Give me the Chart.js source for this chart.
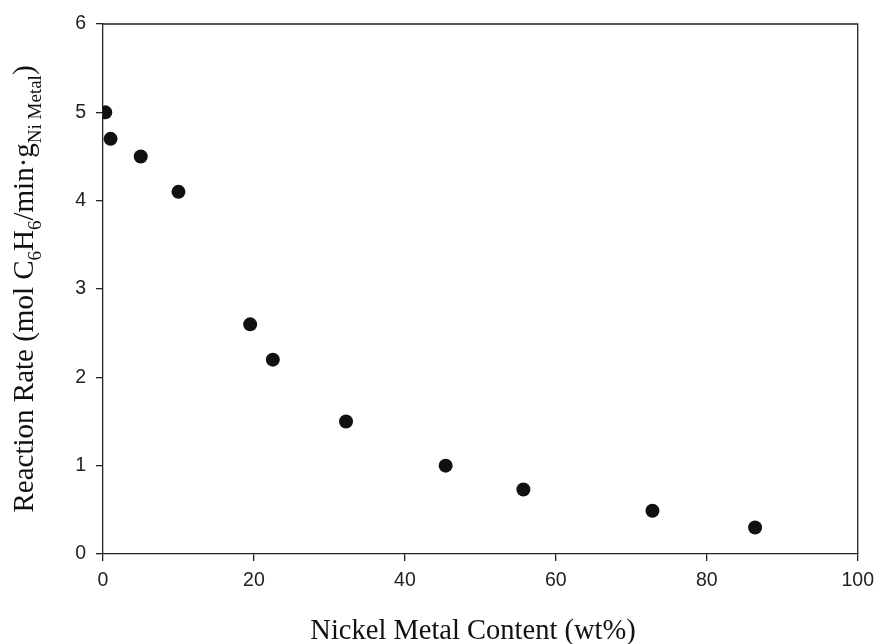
<!DOCTYPE html>
<html>
<head>
<meta charset="utf-8">
<script src="https://cdn.jsdelivr.net/npm/chart.js@4.4.1/dist/chart.umd.min.js"></script>
<style>
  html, body { margin: 0; padding: 0; background: #fff; }
  #wrap { width: 882px; height: 644px; }
</style>
</head>
<body>
<div id="wrap"><canvas id="c" width="882" height="644"></canvas></div>
<script>
// Nickel metal content (wt%) and the measured benzene hydrogenation rate
const nickelContent = [0.3, 1.0, 5.0, 10.0, 19.5, 22.5, 32.2, 45.4, 55.7, 72.8, 86.4];
const reactionRate  = [5.0, 4.7, 4.5, 4.1, 2.6, 2.2, 1.5, 1.0, 0.73, 0.49, 0.3];
const xTicks = [0, 20, 40, 60, 80, 100];
const yTicks = [0, 1, 2, 3, 4, 5, 6];

const xTitle = 'Nickel Metal Content (wt%)';
// y title pieces: [text, isSubscript]
const yTitleParts = [
  ['Reaction Rate (mol C', false], ['6', true], ['H', false], ['6', true],
  ['/min\u00B7g', false], ['Ni Metal', true], [')', false]
];

const points = nickelContent.map((x, i) => ({ x: x, y: reactionRate[i] }));

const AXIS = '#222';
const SERIF = '"Liberation Serif", "Times New Roman", serif';
const SANS = '"Liberation Sans", Arial, sans-serif';

// Closes the frame and draws the axis titles (with subscripts on y)
const framePlugin = {
  id: 'frameAndTitles',
  afterDraw(chart) {
    const { ctx, chartArea: a } = chart;
    ctx.save();
    ctx.strokeStyle = AXIS;
    ctx.lineWidth = 1.3;
    ctx.beginPath();
    ctx.moveTo(a.left, a.top);
    ctx.lineTo(a.right, a.top);
    ctx.lineTo(a.right, a.bottom);
    ctx.stroke();

    ctx.fillStyle = '#111';
    // x title
    ctx.font = '28.5px ' + SERIF;
    ctx.textAlign = 'center';
    ctx.textBaseline = 'alphabetic';
    ctx.fillText(xTitle, 473, 639);

    // y title, rotated, with subscripts
    const mainFont = '29px ' + SERIF;
    const subFont = '19px ' + SERIF;
    let total = 0;
    const widths = yTitleParts.map(([t, sub]) => {
      ctx.font = sub ? subFont : mainFont;
      const w = ctx.measureText(t).width;
      total += w;
      return w;
    });
    ctx.translate(33, (a.top + a.bottom) / 2);
    ctx.rotate(-Math.PI / 2);
    ctx.textAlign = 'left';
    let pos = -total / 2;
    yTitleParts.forEach(([t, sub], i) => {
      ctx.font = sub ? subFont : mainFont;
      ctx.fillText(t, pos, sub ? 8 : 0);
      pos += widths[i];
    });
    ctx.restore();
  }
};

new Chart(document.getElementById('c'), {
  type: 'scatter',
  data: {
    datasets: [{
      data: points,
      backgroundColor: '#111',
      borderColor: '#111',
      pointRadius: 7,
      pointHoverRadius: 7,
      pointBorderWidth: 0
    }]
  },
  options: {
    responsive: false,
    animation: false,
    layout: { padding: { top: 24, right: 23, left: 0, bottom: 0 } },
    plugins: { legend: { display: false }, tooltip: { enabled: false } },
    scales: {
      x: {
        type: 'linear',
        min: 0, max: 100,
        afterFit(s) { s.height = 90; },
        afterBuildTicks(s) { s.ticks = xTicks.map(v => ({ value: v })); },
        grid: { drawOnChartArea: false, drawTicks: true, tickLength: 7, color: AXIS, lineWidth: 1.3 },
        border: { display: true, color: AXIS, width: 1.3 },
        ticks: {
          padding: 8,
          color: '#222',
          font: { family: SANS, size: 19.5 },
          maxRotation: 0
        }
      },
      y: {
        type: 'linear',
        min: 0, max: 6,
        afterFit(s) { s.width = 103; },
        afterBuildTicks(s) { s.ticks = yTicks.map(v => ({ value: v })); },
        grid: { drawOnChartArea: false, drawTicks: true, tickLength: 7, color: AXIS, lineWidth: 1.3 },
        border: { display: true, color: AXIS, width: 1.3 },
        ticks: {
          padding: 10,
          color: '#222',
          font: { family: SANS, size: 19.5 }
        }
      }
    }
  },
  plugins: [framePlugin]
});
</script>
</body>
</html>
